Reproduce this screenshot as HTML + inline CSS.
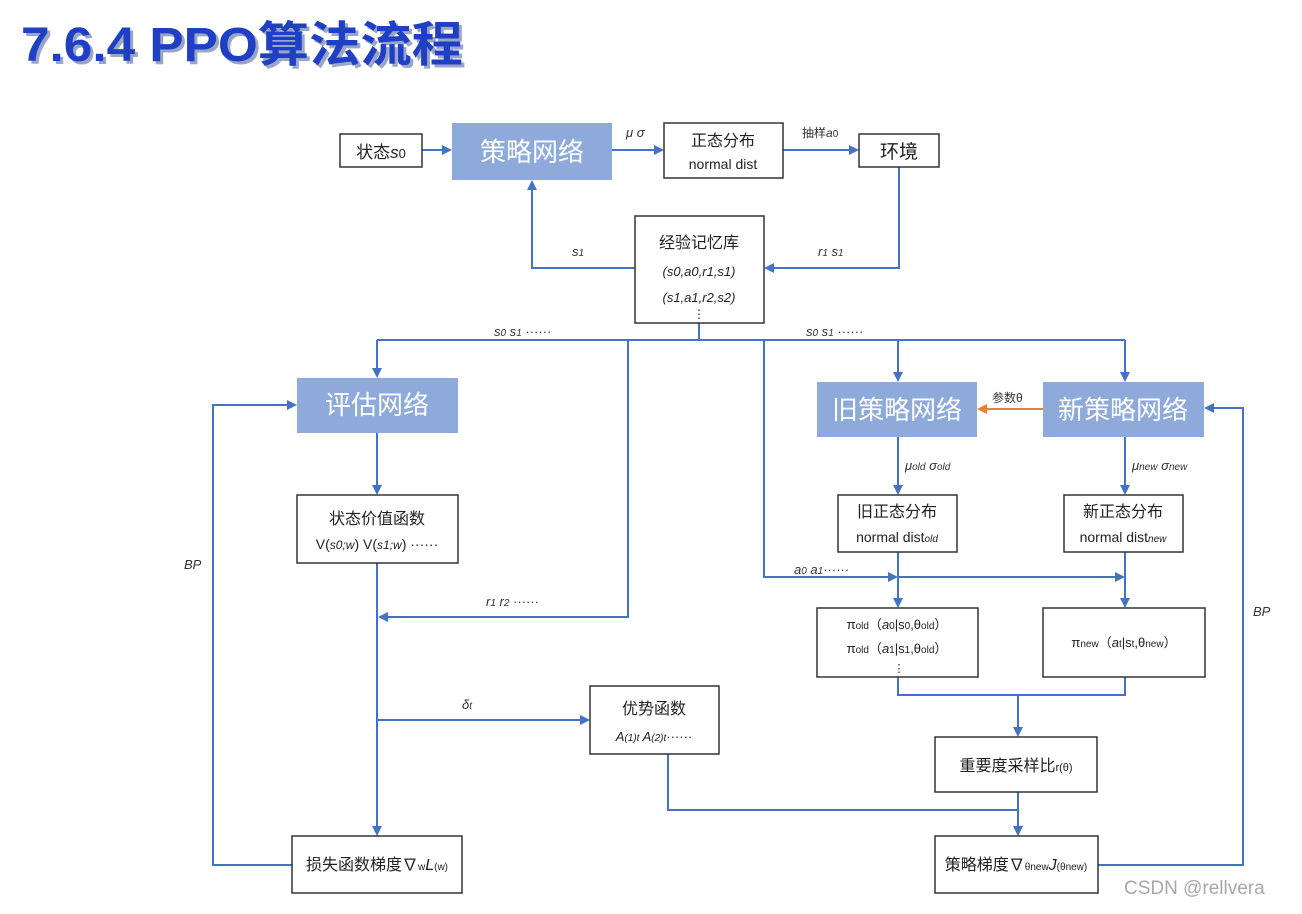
<!DOCTYPE html>
<html><head><meta charset="utf-8"><style>
body{margin:0;background:#fff;}
svg text{font-family:"Liberation Sans","Noto Sans CJK SC",sans-serif;}
</style></head><body>
<svg width="1302" height="909" viewBox="0 0 1302 909" xmlns="http://www.w3.org/2000/svg">
<defs>
<marker id="a" markerWidth="10" markerHeight="10" refX="8" refY="5" orient="auto" markerUnits="userSpaceOnUse"><path d="M0,0 L10,5 L0,10 z" fill="#4472c4"/></marker>
<marker id="o" markerWidth="10" markerHeight="10" refX="8" refY="5" orient="auto" markerUnits="userSpaceOnUse"><path d="M0,0 L10,5 L0,10 z" fill="#ed7d31"/></marker>
</defs>
<text x="24" y="64" font-size="48" font-weight="bold" fill="#9aa6c8" textLength="442" lengthAdjust="spacingAndGlyphs">7.6.4 PPO算法流程</text>
<text x="21" y="61" font-size="48" font-weight="bold" fill="#1f3fc4" textLength="442" lengthAdjust="spacingAndGlyphs">7.6.4 PPO算法流程</text>

<g stroke="#4472c4" stroke-width="2" fill="none">
<path d="M422,150H450" marker-end="url(#a)"/>
<path d="M612,150H662" marker-end="url(#a)"/>
<path d="M783,150H857" marker-end="url(#a)"/>
<path d="M899,167V268H766" marker-end="url(#a)"/>
<path d="M635,268H532V182" marker-end="url(#a)"/>
<path d="M699,323V340"/>
<path d="M377,340H1125"/>
<path d="M377,340V376" marker-end="url(#a)"/>
<path d="M898,340V380" marker-end="url(#a)"/>
<path d="M1125,340V380" marker-end="url(#a)"/>
<path d="M628,340V617H380" marker-end="url(#a)"/>
<path d="M764,340V577H896" marker-end="url(#a)"/>
<path d="M898,577H1123" marker-end="url(#a)"/>
<path d="M377,433V493" marker-end="url(#a)"/>
<path d="M377,563V834" marker-end="url(#a)"/>
<path d="M377,720H588" marker-end="url(#a)"/>
<path d="M668,754V810H1018V834" marker-end="url(#a)"/>
<path d="M898,677V695H1125V677"/>
<path d="M1018,695V735" marker-end="url(#a)"/>
<path d="M1018,792V834" marker-end="url(#a)"/>
<path d="M292,865H213V405H295" marker-end="url(#a)"/>
<path d="M1098,865H1243V408H1206" marker-end="url(#a)"/>
<path d="M898,437V493" marker-end="url(#a)"/>
<path d="M1125,437V493" marker-end="url(#a)"/>
<path d="M898,552V606" marker-end="url(#a)"/>
<path d="M1125,552V606" marker-end="url(#a)"/>
</g>
<path d="M1043,409H979" stroke="#ed7d31" stroke-width="2" marker-end="url(#o)"/>

<g fill="#8eaadb">
<rect x="452" y="123" width="160" height="57"/>
<rect x="297" y="378" width="161" height="55"/>
<rect x="817" y="382" width="160" height="55"/>
<rect x="1043" y="382" width="161" height="55"/>
</g>
<g fill="#fff" stroke="#333" stroke-width="1.5">
<rect x="340" y="134" width="82" height="33"/>
<rect x="664" y="123" width="119" height="55"/>
<rect x="859" y="134" width="80" height="33"/>
<rect x="635" y="216" width="129" height="107"/>
<rect x="297" y="495" width="161" height="68"/>
<rect x="838" y="495" width="119" height="57"/>
<rect x="1064" y="495" width="119" height="57"/>
<rect x="817" y="608" width="161" height="69"/>
<rect x="1043" y="608" width="162" height="69"/>
<rect x="590" y="686" width="129" height="68"/>
<rect x="935" y="737" width="162" height="55"/>
<rect x="292" y="836" width="170" height="57"/>
<rect x="935" y="836" width="163" height="57"/>
</g>

<g fill="#fff" font-size="26" text-anchor="middle">
<text x="532" y="161">策略网络</text>
<text x="377" y="414">评估网络</text>
<text x="897" y="419">旧策略网络</text>
<text x="1123" y="419">新策略网络</text>
</g>
<g fill="#222" font-size="16" text-anchor="middle">
<text x="381" y="158" font-size="17">状态<tspan font-style="italic">s</tspan><tspan font-size="13">0</tspan></text>
<text x="723" y="146">正态分布</text>
<text x="723" y="169" font-size="14">normal dist</text>
<text x="899" y="158" font-size="19">环境</text>
<text x="699" y="248">经验记忆库</text>
<text x="699" y="276" font-size="13" font-style="italic">(s0,a0,r1,s1)</text>
<text x="699" y="302" font-size="13" font-style="italic">(s1,a1,r2,s2)</text>
<text x="699" y="318" font-size="12">⋮</text>
<text x="377" y="524">状态价值函数</text>
<text x="377" y="549" font-size="14">V(<tspan font-style="italic" font-size="12">s0;w</tspan>) V(<tspan font-style="italic" font-size="12">s1;w</tspan>) ······</text>
<text x="897" y="517">旧正态分布</text>
<text x="897" y="542" font-size="14">normal dist<tspan font-size="10" font-style="italic">old</tspan></text>
<text x="1123" y="517">新正态分布</text>
<text x="1123" y="542" font-size="14">normal dist<tspan font-size="10" font-style="italic">new</tspan></text>
<text x="897" y="629" font-size="13">π<tspan font-size="10">old</tspan>（<tspan font-style="italic">a</tspan><tspan font-size="10">0</tspan>|s<tspan font-size="10">0</tspan>,θ<tspan font-size="10">old</tspan>）</text>
<text x="897" y="653" font-size="13">π<tspan font-size="10">old</tspan>（<tspan font-style="italic">a</tspan><tspan font-size="10">1</tspan>|s<tspan font-size="10">1</tspan>,θ<tspan font-size="10">old</tspan>）</text>
<text x="899" y="672" font-size="11">⋮</text>
<text x="1124" y="647" font-size="13">π<tspan font-size="10">new</tspan>（<tspan font-style="italic">a</tspan><tspan font-size="10">t</tspan>|s<tspan font-size="10">t</tspan>,θ<tspan font-size="10">new</tspan>）</text>
<text x="654" y="714">优势函数</text>
<text x="654" y="741" font-size="13" font-style="italic">A<tspan font-size="10">(1)t</tspan>  A<tspan font-size="10">(2)t</tspan>······</text>
<text x="1016" y="771">重要度采样比<tspan font-size="11">r(θ)</tspan></text>
<text x="377" y="870">损失函数梯度∇<tspan font-size="10">w</tspan><tspan font-style="italic">L</tspan><tspan font-size="10">(w)</tspan></text>
<text x="1016" y="870">策略梯度∇<tspan font-size="10">θnew</tspan><tspan font-style="italic">J</tspan><tspan font-size="10">(θnew)</tspan></text>
</g>
<g fill="#333" font-size="13" font-style="italic">
<text x="626" y="137">μ σ</text>
<text x="802" y="137" font-style="normal" font-size="12">抽样<tspan font-style="italic">a</tspan><tspan font-size="10">0</tspan></text>
<text x="572" y="256">s<tspan font-size="10">1</tspan></text>
<text x="818" y="256">r<tspan font-size="10">1</tspan> s<tspan font-size="10">1</tspan></text>
<text x="494" y="336">s<tspan font-size="10">0</tspan> s<tspan font-size="10">1</tspan> ······</text>
<text x="806" y="336">s<tspan font-size="10">0</tspan> s<tspan font-size="10">1</tspan> ······</text>
<text x="992" y="402" font-style="normal" font-size="12">参数θ</text>
<text x="905" y="470">μ<tspan font-size="10">old</tspan> σ<tspan font-size="10">old</tspan></text>
<text x="1132" y="470">μ<tspan font-size="10">new</tspan> σ<tspan font-size="10">new</tspan></text>
<text x="794" y="574">a<tspan font-size="10">0</tspan> a<tspan font-size="10">1</tspan>······</text>
<text x="486" y="606">r<tspan font-size="10">1</tspan> r<tspan font-size="10">2</tspan> ······</text>
<text x="462" y="709">δ<tspan font-size="10">t</tspan></text>
<text x="184" y="569">BP</text>
<text x="1253" y="616">BP</text>
</g>
<text x="1124" y="894" font-size="19" fill="#a8a8a8">CSDN @rellvera</text>
</svg>
</body></html>
